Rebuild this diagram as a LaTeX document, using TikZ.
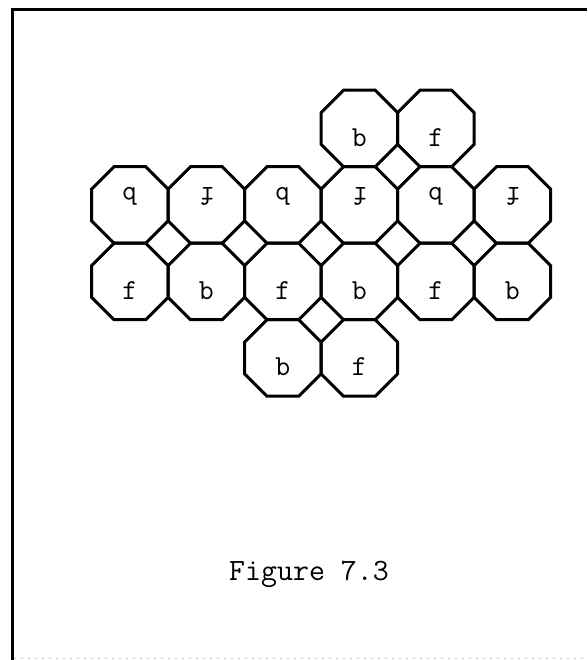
\documentclass[tikz,border=0pt]{standalone}
\usepackage{tikz}
\usetikzlibrary{shapes.geometric,positioning}
\tikzset{
  tile/.style={draw,regular polygon,regular polygon sides=8,minimum size=82.8pt,
    inner sep=0pt,outer sep=0pt,line width=3pt},
  face/.style={font=\fontsize{29}{34}\selectfont\ttfamily,inner sep=0pt},
  faceup/.style={face,yshift=-9pt},
  facedown/.style={face,yshift=9pt,rotate=180}
}

\begin{document}
\begin{tikzpicture}[x=1pt,y=1pt]
        \useasboundingbox (0,0) rectangle (587,660);
        % frame of the page
        \draw[line width=2.2pt] (12.5,0) -- (12.5,650.5) -- (587,650.5);
        \draw[gray!45,line width=1pt,dash pattern=on 2pt off 5pt] (14,1) -- (587,1);
        % top pair
        \node[tile] (A4) at (359.35,531.5) {};
        \node[tile] (A5) at (435.85,531.5) {};
        % upper row
        \node[tile] (B1) at (129.85,455) {};
        \node[tile] (B2) at (206.35,455) {};
        \node[tile] (B3) at (282.85,455) {};
        \node[tile] (B4) at (359.35,455) {};
        \node[tile] (B5) at (435.85,455) {};
        \node[tile] (B6) at (512.35,455) {};
        % lower row
        \node[tile] (C1) at (129.85,378.5) {};
        \node[tile] (C2) at (206.35,378.5) {};
        \node[tile] (C3) at (282.85,378.5) {};
        \node[tile] (C4) at (359.35,378.5) {};
        \node[tile] (C5) at (435.85,378.5) {};
        \node[tile] (C6) at (512.35,378.5) {};
        % bottom pair
        \node[tile] (D3) at (282.85,302) {};
        \node[tile] (D4) at (359.35,302) {};
        % faces
        \node[faceup] (A4f) at (A4) {b};
        \node[faceup] (A5f) at (A5) {f};
        \node[facedown] (B1f) at (B1) {b};
        \node[facedown] (B2f) at (B2) {f};
        \node[facedown] (B3f) at (B3) {b};
        \node[facedown] (B4f) at (B4) {f};
        \node[facedown] (B5f) at (B5) {b};
        \node[facedown] (B6f) at (B6) {f};
        \node[faceup] (C1f) at (C1) {f};
        \node[faceup] (C2f) at (C2) {b};
        \node[faceup] (C3f) at (C3) {f};
        \node[faceup] (C4f) at (C4) {b};
        \node[faceup] (C5f) at (C5) {f};
        \node[faceup] (C6f) at (C6) {b};
        \node[faceup] (D3f) at (D3) {b};
        \node[faceup] (D4f) at (D4) {f};
        % caption
        \node[font=\fontsize{31}{36}\selectfont\ttfamily,anchor=base] (cap) at (309,79) {Figure 7.3};
      \end{tikzpicture}
\end{document}
